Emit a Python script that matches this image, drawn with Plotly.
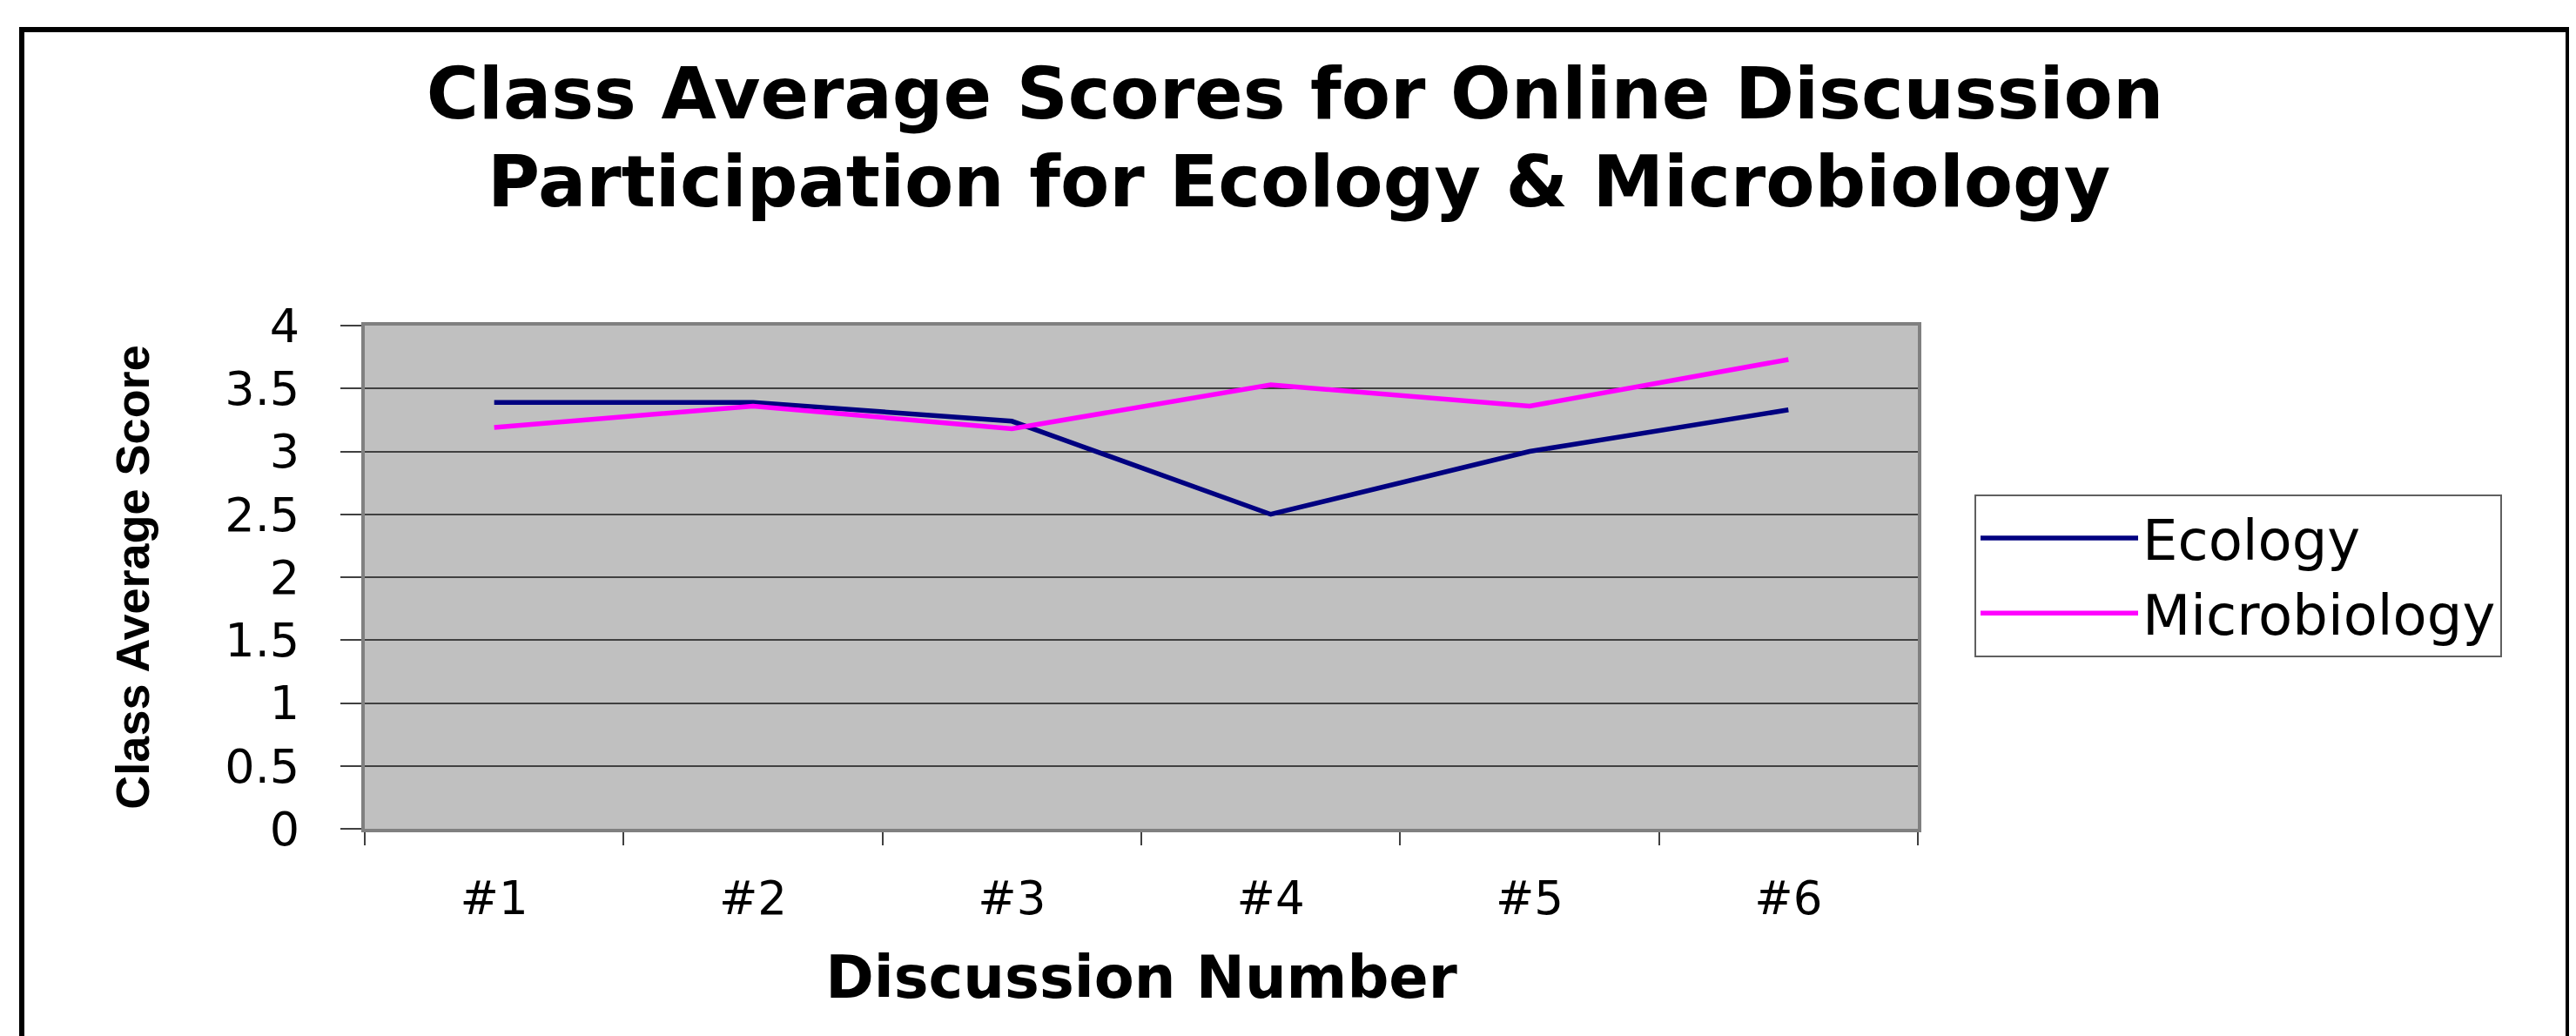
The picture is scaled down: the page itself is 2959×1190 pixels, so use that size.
import plotly.graph_objects as go

# ---- data ----
categories = ["#1", "#2", "#3", "#4", "#5", "#6"]
ecology = [3.39, 3.39, 3.24, 2.50, 3.00, 3.33]
microbiology = [3.19, 3.36, 3.18, 3.53, 3.36, 3.73]
series_names = ["Ecology", "Microbiology"]
title_lines = ["Class Average Scores for Online Discussion",
               "Participation for Ecology & Microbiology"]
x_title = "Discussion Number"
y_title = "Class Average Score"

# ---- layout geometry (pixels) ----
W, H = 2959, 1190
L, R, T, B = 411, 2195, 366, 944   # plot area edges
pw, ph = R - L, B - T

def px_x(x):
    return (x - L) / pw

def px_y(y):
    return (B - y) / ph

fig = go.Figure()
fig.add_trace(go.Scatter(x=categories, y=ecology, mode="lines", name=series_names[0],
                         line=dict(color="#000080", width=5.5), legendgroup="a"))
fig.add_trace(go.Scatter(x=categories, y=microbiology, mode="lines", name=series_names[1],
                         line=dict(color="#FF00FF", width=5.5), legendgroup="b"))

fig.update_layout(
    width=W, height=H,
    margin=dict(l=L, r=W - R, t=T, b=H - B),
    paper_bgcolor="white",
    plot_bgcolor="#C0C0C0",
    title=dict(text=title_lines[0], x=0.5, xanchor="center", xref="container",
               y=1 - 99 / H, yanchor="middle", yref="container",
               font=dict(family="DejaVu Sans", size=82, color="black", weight="bold")),
    showlegend=True,
    legend=dict(x=px_x(2260), y=px_y(560), xanchor="left", yanchor="top",
                bgcolor="white", bordercolor="#606060", borderwidth=2,
                font=dict(family="DejaVu Sans", size=64, color="black"),
                itemwidth=181, tracegroupgap=0),
)

fig.add_annotation(text=title_lines[1], xref="paper", yref="paper",
                   x=px_x(1484), y=px_y(200), xanchor="center", yanchor="middle",
                   showarrow=False,
                   font=dict(family="DejaVu Sans", size=82, color="black", weight="bold"))

fig.update_xaxes(
    type="category", range=[-0.5, len(categories) - 0.5],
    tickson="boundaries", ticks="outside", ticklen=15, tickwidth=1.5, tickcolor="#404040",
    showline=True, linecolor="#808080", linewidth=4, mirror=True,
    showgrid=False, zeroline=False,
    tickfont=dict(family="DejaVu Sans", size=53, color="black"),
    ticklabelstandoff=30,
    title=dict(text=x_title, standoff=40,
               font=dict(family="DejaVu Sans", size=67, color="black", weight="bold")),
)
fig.update_yaxes(
    range=[0, 4], dtick=0.5, tick0=0,
    ticks="outside", ticklen=24, tickwidth=1.5, tickcolor="#404040",
    showline=True, linecolor="#808080", linewidth=4, mirror=True,
    showgrid=True, gridcolor="#404040", gridwidth=1.5, zeroline=False,
    tickfont=dict(family="DejaVu Sans", size=54, color="black"),
    ticklabelstandoff=36,
    title=dict(text=y_title, standoff=70,
               font=dict(family="Liberation Sans", size=54, color="black", weight="bold")),
)

# outer chart frame
fig.add_shape(type="rect", xref="paper", yref="paper",
              x0=px_x(17), x1=px_x(2942), y0=px_y(26), y1=px_y(1220),
              line=dict(color="black", width=6), fillcolor="rgba(0,0,0,0)", layer="above")

fig.write_html("out.html")
